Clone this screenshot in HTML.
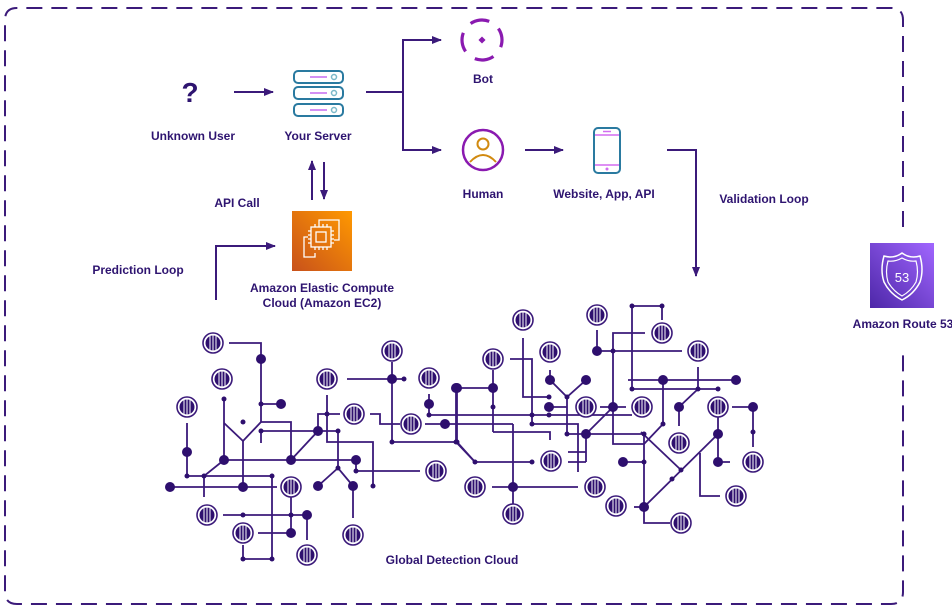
<!DOCTYPE html>
<html><head><meta charset="utf-8"><style>
html,body{margin:0;padding:0;background:#fff;}
svg{display:block;}
text{font-family:"Liberation Sans",sans-serif;font-weight:bold;fill:#2e1470;font-size:12px;text-anchor:middle;}
</style></head><body>
<svg width="952" height="612" viewBox="0 0 952 612" xmlns="http://www.w3.org/2000/svg">
<defs>
<marker id="ah" markerWidth="10" markerHeight="10" refX="9" refY="5" orient="auto" markerUnits="userSpaceOnUse"><path d="M0,1 L10,5 L0,9 Z" fill="#3b1a7a"/></marker>
<symbol id="c" viewBox="-11 -11 22 22" overflow="visible">
<circle r="10" fill="#fff" stroke="#3b1a7a" stroke-width="1.6"/>
<circle r="7.5" fill="#2e0f6e"/>
<g stroke="#fff" stroke-width="1"><line x1="-3" y1="-7" x2="-3" y2="7"/><line x1="0" y1="-7.5" x2="0" y2="7.5"/><line x1="3" y1="-7" x2="3" y2="7"/></g>
</symbol>
<linearGradient id="og" x1="0" y1="1" x2="1" y2="0"><stop offset="0" stop-color="#c8511b"/><stop offset="1" stop-color="#f90"/></linearGradient>
<linearGradient id="pg" x1="0" y1="1" x2="1" y2="0"><stop offset="0" stop-color="#4d27a8"/><stop offset="1" stop-color="#a166ff"/></linearGradient>
</defs>

<!-- dashed border -->
<path d="M903,227 V20 Q903,8 891,8 H17 Q5,8 5,20 V592 Q5,604 17,604 H891 Q903,604 903,592 V347" fill="none" stroke="#3b1a7a" stroke-width="2" stroke-dasharray="16,9"/>

<g stroke="#3b1a7a" stroke-width="2" fill="none">
<line x1="234" y1="92" x2="273" y2="92" marker-end="url(#ah)"/>
<polyline points="366,92 403,92"/>
<polyline points="441,40 403,40 403,150 441,150" marker-end="url(#ah)"/>
<line x1="403" y1="40" x2="441" y2="40" marker-end="url(#ah)"/>
<line x1="525" y1="150" x2="563" y2="150" marker-end="url(#ah)"/>
<polyline points="667,150 696,150 696,276" marker-end="url(#ah)"/>
<line x1="312" y1="200" x2="312" y2="161" marker-end="url(#ah)"/>
<line x1="324" y1="162" x2="324" y2="199" marker-end="url(#ah)"/>
<polyline points="216,300 216,246 275,246" marker-end="url(#ah)"/>
</g>

<!-- ? -->
<text x="190" y="102" style="font-size:28px;fill:#2e1470">?</text>

<!-- server -->
<g stroke="#2a7aa0" stroke-width="2" fill="#fff">
<rect x="294" y="71" width="49" height="12" rx="4"/>
<rect x="294" y="87" width="49" height="12" rx="4"/>
<rect x="294" y="104" width="49" height="12" rx="4"/>
</g>
<g stroke="#c56cf0" stroke-width="1.5"><line x1="310" y1="77" x2="327" y2="77"/><line x1="310" y1="93" x2="327" y2="93"/><line x1="310" y1="110" x2="327" y2="110"/></g>
<g stroke="#7ab8c8" stroke-width="1.5" fill="none"><circle cx="334" cy="77" r="2.5"/><circle cx="334" cy="93" r="2.5"/><circle cx="334" cy="110" r="2.5"/></g>

<!-- bot -->
<circle cx="482" cy="40" r="20" fill="none" stroke="#8a1ab0" stroke-width="3.2" stroke-dasharray="19.5,11.9" transform="rotate(-35 482 40)"/>
<rect x="479.5" y="37.5" width="5" height="5" fill="#8a1ab0" transform="rotate(45 482 40)"/>

<!-- human -->
<circle cx="483" cy="150" r="20" fill="none" stroke="#8a1ab0" stroke-width="2.5"/>
<circle cx="483" cy="144" r="5.5" fill="none" stroke="#d18a10" stroke-width="2"/>
<path d="M470,162 Q483,148 496,162" fill="none" stroke="#d18a10" stroke-width="2"/>

<!-- phone -->
<rect x="594" y="128" width="26" height="45" rx="4" fill="#fff" stroke="#2a7aa0" stroke-width="2"/>
<g stroke="#d36cf0" stroke-width="1.5"><line x1="595" y1="135" x2="619" y2="135"/><line x1="595" y1="165" x2="619" y2="165"/><line x1="603" y1="131.5" x2="611" y2="131.5"/></g>
<circle cx="607" cy="169" r="1.5" fill="#d36cf0"/>

<!-- EC2 -->
<rect x="292" y="211" width="60" height="60" fill="url(#og)"/>
<g stroke="#fff" stroke-width="1.3" fill="none">
<path d="M319,224 V220 H339 V240 H334"/>
<path d="M315,253 V257 H304 V237 H308"/>
<rect x="311" y="227" width="20" height="20"/>
<rect x="316" y="232" width="10" height="10"/>
<path d="M315,224v3M319,224v3M323,224v3M327,224v3M315,247v3M319,247v3M323,247v3M327,247v3M308,231h3M308,235h3M308,239h3M308,243h3M331,231h3M331,235h3M331,239h3M331,243h3"/>
</g>

<!-- Route 53 -->
<rect x="870" y="243" width="64" height="65" fill="url(#pg)"/>
<path d="M902,253 q-8,6 -18,3 q-4,14 0,26 q6,12 18,18 q12,-6 18,-18 q4,-12 0,-26 q-10,3 -18,-3 z" fill="none" stroke="#fff" stroke-width="1.5"/>
<path d="M902,258 q-7,4 -14,3 q-3,11 0,21 q5,9 14,14 q9,-5 14,-14 q3,-10 0,-21 q-7,1 -14,-3 z" fill="none" stroke="#fff" stroke-width="1.2"/>
<text x="902" y="282" style="fill:#fff;font-size:13px;font-weight:normal">53</text>

<!-- labels -->
<text x="193" y="140">Unknown User</text>
<text x="318" y="140">Your Server</text>
<text x="483" y="83">Bot</text>
<text x="483" y="198">Human</text>
<text x="604" y="198">Website, App, API</text>
<text x="764" y="203">Validation Loop</text>
<text x="237" y="207">API Call</text>
<text x="138" y="274">Prediction Loop</text>
<text x="322" y="292">Amazon Elastic Compute</text>
<text x="322" y="307">Cloud (Amazon EC2)</text>
<text x="903" y="328">Amazon Route 53</text>
<text x="452" y="564">Global Detection Cloud</text>

<!-- network lines -->
<g stroke="#3b1a7a" stroke-width="1.8" fill="none">
<polyline points="229,343 261,343 261,422"/>
<line x1="261" y1="404" x2="281" y2="404"/>
<line x1="224" y1="399" x2="224" y2="460"/>
<polyline points="224,423 243,441 261,422"/>
<line x1="243" y1="441" x2="243" y2="487"/>
<polyline points="261,422 291,422 291,460"/>
<line x1="224" y1="460" x2="356" y2="460"/>
<line x1="261" y1="431" x2="338" y2="431"/>
<line x1="261" y1="431" x2="261" y2="443"/>
<line x1="291" y1="460" x2="318" y2="431"/>
<polyline points="327,395 327,442 373,442 373,486"/>
<polyline points="340,414 318,414 318,431"/>
<line x1="338" y1="431" x2="338" y2="468"/>
<polyline points="318,486 338,468 353,486 353,518"/>
<polyline points="356,460 356,471 420,471"/>
<polyline points="187,423 187,476 272,476 272,559 243,559 243,545"/>
<polyline points="224,460 204,476 204,497"/>
<line x1="170" y1="487" x2="277" y2="487"/>
<line x1="223" y1="515" x2="307" y2="515"/>
<line x1="291" y1="497" x2="291" y2="533"/>
<line x1="258" y1="533" x2="291" y2="533"/>
<line x1="307" y1="515" x2="307" y2="540"/>
<line x1="347" y1="379" x2="404" y2="379"/>
<polyline points="392,362 392,442 456,442 456,388"/>
<polyline points="370,414 380,414 380,424 400,424"/>
<polyline points="429,394 429,415 632,415"/>
<line x1="425" y1="424" x2="513" y2="424"/>
<line x1="513" y1="424" x2="513" y2="505"/>
<line x1="492" y1="487" x2="578" y2="487"/>
<line x1="457" y1="388" x2="493" y2="388"/>
<line x1="493" y1="370" x2="493" y2="432"/>
<polyline points="493,432 550,432 550,440"/>
<polyline points="457,388 457,442 475,462 532,462"/>
<polyline points="456,442 475,462"/>
<polyline points="510,359 532,359 532,424 578,424 578,472"/>
<polyline points="523,338 523,397 549,397"/>
<line x1="549" y1="407" x2="567" y2="407"/>
<line x1="550" y1="370" x2="550" y2="380"/>
<polyline points="550,380 567,397 586,380"/>
<polyline points="567,397 567,434 586,434"/>
<line x1="568" y1="452" x2="586" y2="452"/>
<line x1="568" y1="462" x2="586" y2="462"/>
<line x1="586" y1="434" x2="586" y2="462"/>
<line x1="586" y1="434" x2="613" y2="407"/>
<line x1="600" y1="407" x2="626" y2="407"/>
<polyline points="645,333 613,333 613,444 644,444"/>
<polyline points="632,389 632,306 662,306 662,320"/>
<line x1="632" y1="389" x2="718" y2="389"/>
<polyline points="597,330 597,351 682,351"/>
<line x1="628" y1="380" x2="736" y2="380"/>
<polyline points="663,380 663,424 644,444"/>
<polyline points="698,367 698,389 679,407 679,426"/>
<line x1="586" y1="434" x2="644" y2="434"/>
<polyline points="644,434 644,523 670,523"/>
<line x1="623" y1="462" x2="644" y2="462"/>
<line x1="634" y1="507" x2="644" y2="507"/>
<line x1="641" y1="432" x2="681" y2="470"/>
<line x1="644" y1="507" x2="718" y2="434"/>
<polyline points="718,407 718,462 730,462"/>
<polyline points="700,453 700,496 720,496"/>
<polyline points="732,407 753,407 753,447"/>
</g>
<g fill="#2e0f6e">
<circle cx="261" cy="359" r="5"/><circle cx="281" cy="404" r="5"/><circle cx="187" cy="452" r="5"/><circle cx="224" cy="460" r="5"/><circle cx="291" cy="460" r="5"/><circle cx="318" cy="431" r="5"/><circle cx="356" cy="460" r="5"/><circle cx="170" cy="487" r="5"/><circle cx="243" cy="487" r="5"/><circle cx="318" cy="486" r="5"/><circle cx="353" cy="486" r="5"/><circle cx="307" cy="515" r="5"/><circle cx="291" cy="533" r="5"/><circle cx="392" cy="379" r="5"/><circle cx="429" cy="404" r="5"/><circle cx="456" cy="388" r="5"/><circle cx="445" cy="424" r="5"/>
<circle cx="597" cy="351" r="5"/><circle cx="550" cy="380" r="5"/><circle cx="586" cy="380" r="5"/><circle cx="663" cy="380" r="5"/><circle cx="736" cy="380" r="5"/><circle cx="457" cy="388" r="5"/><circle cx="493" cy="388" r="5"/><circle cx="549" cy="407" r="5"/><circle cx="613" cy="407" r="5"/><circle cx="679" cy="407" r="5"/><circle cx="753" cy="407" r="5"/><circle cx="586" cy="434" r="5"/><circle cx="718" cy="434" r="5"/><circle cx="623" cy="462" r="5"/><circle cx="718" cy="462" r="5"/><circle cx="513" cy="487" r="5"/><circle cx="644" cy="507" r="5"/>
<circle cx="224" cy="399" r="2.5"/><circle cx="243" cy="422" r="2.5"/><circle cx="261" cy="404" r="2.5"/><circle cx="261" cy="431" r="2.5"/><circle cx="338" cy="431" r="2.5"/><circle cx="327" cy="414" r="2.5"/><circle cx="338" cy="468" r="2.5"/><circle cx="373" cy="486" r="2.5"/><circle cx="356" cy="471" r="2.5"/><circle cx="187" cy="476" r="2.5"/><circle cx="204" cy="476" r="2.5"/><circle cx="272" cy="476" r="2.5"/><circle cx="243" cy="515" r="2.5"/><circle cx="291" cy="515" r="2.5"/><circle cx="243" cy="559" r="2.5"/><circle cx="272" cy="559" r="2.5"/><circle cx="404" cy="379" r="2.5"/><circle cx="392" cy="442" r="2.5"/><circle cx="456" cy="442" r="2.5"/><circle cx="429" cy="415" r="2.5"/>
<circle cx="632" cy="306" r="2.5"/><circle cx="662" cy="306" r="2.5"/><circle cx="613" cy="351" r="2.5"/><circle cx="632" cy="389" r="2.5"/><circle cx="698" cy="389" r="2.5"/><circle cx="718" cy="389" r="2.5"/><circle cx="549" cy="397" r="2.5"/><circle cx="567" cy="397" r="2.5"/><circle cx="532" cy="415" r="2.5"/><circle cx="549" cy="415" r="2.5"/><circle cx="493" cy="407" r="2.5"/><circle cx="532" cy="424" r="2.5"/><circle cx="567" cy="434" r="2.5"/><circle cx="457" cy="442" r="2.5"/><circle cx="475" cy="462" r="2.5"/><circle cx="532" cy="462" r="2.5"/><circle cx="663" cy="424" r="2.5"/><circle cx="644" cy="434" r="2.5"/><circle cx="644" cy="462" r="2.5"/><circle cx="681" cy="470" r="2.5"/><circle cx="672" cy="479" r="2.5"/><circle cx="753" cy="432" r="2.5"/>
</g>
<!-- chips -->
<g>
<use href="#c" x="202" y="332" width="22" height="22"/>
<use href="#c" x="211" y="368" width="22" height="22"/>
<use href="#c" x="176" y="396" width="22" height="22"/>
<use href="#c" x="381" y="340" width="22" height="22"/>
<use href="#c" x="316" y="368" width="22" height="22"/>
<use href="#c" x="418" y="367" width="22" height="22"/>
<use href="#c" x="343" y="403" width="22" height="22"/>
<use href="#c" x="400" y="413" width="22" height="22"/>
<use href="#c" x="280" y="476" width="22" height="22"/>
<use href="#c" x="425" y="460" width="22" height="22"/>
<use href="#c" x="196" y="504" width="22" height="22"/>
<use href="#c" x="232" y="522" width="22" height="22"/>
<use href="#c" x="296" y="544" width="22" height="22"/>
<use href="#c" x="342" y="524" width="22" height="22"/>
<use href="#c" x="512" y="309" width="22" height="22"/>
<use href="#c" x="586" y="304" width="22" height="22"/>
<use href="#c" x="651" y="322" width="22" height="22"/>
<use href="#c" x="539" y="341" width="22" height="22"/>
<use href="#c" x="687" y="340" width="22" height="22"/>
<use href="#c" x="482" y="348" width="22" height="22"/>
<use href="#c" x="575" y="396" width="22" height="22"/>
<use href="#c" x="631" y="396" width="22" height="22"/>
<use href="#c" x="707" y="396" width="22" height="22"/>
<use href="#c" x="668" y="432" width="22" height="22"/>
<use href="#c" x="540" y="450" width="22" height="22"/>
<use href="#c" x="742" y="451" width="22" height="22"/>
<use href="#c" x="464" y="476" width="22" height="22"/>
<use href="#c" x="584" y="476" width="22" height="22"/>
<use href="#c" x="725" y="485" width="22" height="22"/>
<use href="#c" x="605" y="495" width="22" height="22"/>
<use href="#c" x="502" y="503" width="22" height="22"/>
<use href="#c" x="670" y="512" width="22" height="22"/>
</g>
</svg>
</body></html>
